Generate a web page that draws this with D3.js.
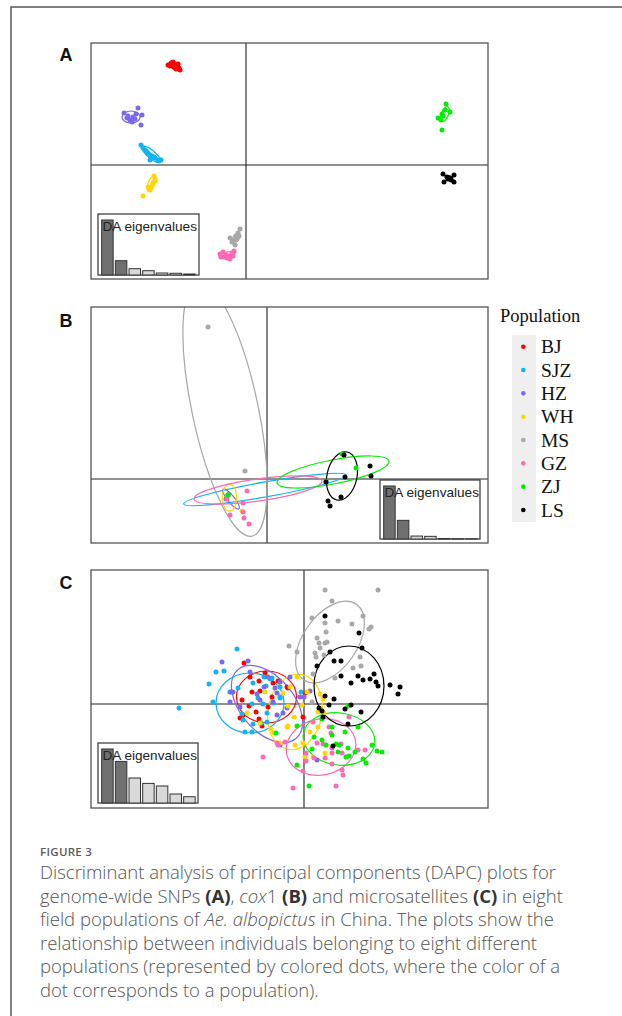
<!DOCTYPE html>
<html><head><meta charset="utf-8">
<script src="https://cdn.jsdelivr.net/npm/d3@7/dist/d3.min.js"></script>
<style>body{margin:0;background:#fff}svg{display:block}</style>
</head><body>
<script>
// ---------- populations ----------
const populations = ["BJ","SJZ","HZ","WH","MS","GZ","ZJ","LS"];
const popColors   = ["#ff0000","#10b4f2","#7b68ee","#ffd700","#a8a8a8","#ff69b4","#00ee00","#000000"];

// ---------- Panel A : genome-wide SNPs (DA scores) ----------
const aBJ  = [[-7.8,10.0],[-7.5,10.2],[-7.3,10.3],[-7.1,10.1],[-6.9,9.9],[-6.7,9.7],[-7.2,9.8],[-7.0,9.6],[-6.6,9.5],[-7.6,9.9],[-6.8,10.1]];
const aSJZ = [[-10.5,2.0],[-10.3,1.7],[-10.0,1.4],[-9.8,1.2],[-9.6,1.0],[-9.4,0.9],[-9.1,0.7],[-8.8,0.5],[-8.5,0.5],[-9.6,0.5],[-10.1,1.5],[-9.2,0.8]];
const aHZ  = [[-12.2,5.2],[-10.8,5.7],[-10.4,5.0],[-10.5,4.0],[-11.9,4.7],[-11.6,4.5],[-11.3,4.8],[-11.1,4.6],[-11.8,4.9],[-11.4,4.3],[-11.0,5.1]];
const aWH  = [[-9.2,-1.1],[-9.1,-1.4],[-9.3,-1.8],[-9.4,-2.1],[-9.5,-2.3],[-9.6,-2.5],[-9.8,-2.2],[-10.3,-3.1],[-9.1,-1.6]];
const aMS  = [[-0.6,-6.4],[-0.8,-6.8],[-1.0,-7.1],[-1.2,-7.5],[-1.4,-7.7],[-0.9,-7.4],[-0.7,-7.1],[-1.1,-8.0],[-1.6,-7.3]];
const aGZ  = [[-2.6,-8.9],[-2.3,-8.7],[-2.0,-9.0],[-1.7,-9.1],[-1.4,-8.8],[-1.2,-8.6],[-1.9,-9.3],[-2.2,-9.2],[-1.6,-9.4],[-1.3,-9.1],[-2.5,-9.2]];
const aZJ  = [[20.0,6.1],[20.4,5.3],[19.9,5.5],[19.6,5.1],[19.2,4.7],[19.7,4.9],[19.5,4.5],[19.6,3.5]];
const aLS  = [[19.7,-0.9],[20.1,-1.2],[20.4,-1.3],[20.8,-1.0],[19.8,-1.7],[20.8,-1.7],[20.2,-1.4],[20.5,-1.5]];
// ellipses: population, centre x, centre y, semi-axis x, semi-axis y, rotation (deg)
const aEllipses = [["BJ",-7.2,9.9,0.5,0.3,30],["SJZ",-9.45,1.05,1.2,0.4,40],["HZ",-11.5,4.8,0.9,0.6,0],["WH",-9.5,-1.9,0.8,0.3,-70],
                   ["MS",-1.0,-7.3,0.6,0.3,-60],["GZ",-1.9,-9.0,0.8,0.3,-10],["ZJ",19.9,5.1,0.8,0.35,-70],["LS",20.3,-1.3,0.4,0.2,20]];
const aEigen = [55,14.3,6.3,4.3,2.0,1.7,1.0];

// ---------- Panel B : cox1 ----------
const bBJ  = [[-3.9,-1.6]];
const bSJZ = [[-3.9,-1.6]];
const bHZ  = [[-4.1,-2.0]];
const bWH  = [[-2.5,-3.2],[-3.9,-1.7]];
const bMS  = [[-5.9,15.2],[-2.2,0.8]];
const bGZ  = [[-2.0,-1.2],[-2.4,-2.4],[-2.4,-3.3],[-2.3,-3.9],[-1.8,-4.5],[-3.7,-3.6],[-4.0,-2.0]];
const bZJ  = [[-3.9,-1.6],[8.9,1.1],[7.5,2.5],[5.9,-0.2]];
const bLS  = [[7.7,2.4],[10.3,1.3],[10.4,0.3],[7.8,0.2],[5.9,-0.3],[7.4,-1.8],[6.1,-2.2],[6.3,-2.7]];
const bEllipses = [["SJZ",-0.2,-1.05,8.26,0.75,-10.1],["HZ",-3.6,-2.0,1.26,0.35,51],["WH",-3.75,-1.87,0.72,1.35,0],
                   ["MS",-4.2,7.0,3.3,13.0,-12],["GZ",-0.9,-1.1,6.46,1.1,-8],["ZJ",6.6,0.7,5.7,1.2,-11],["LS",7.5,0.3,1.5,2.45,12]];
const bEigen = [54,19,3,2.7,0.5,0.3,0.2];

// ---------- Panel C : microsatellites ----------
const cBJ  = [[-6.0,4.1],[-5.4,2.7],[-4.5,2.3],[-3.9,3.1],[-4.4,1.3],[-6.2,0.4],[-6.4,-1.4],[-6.1,-1.1],[-4.5,-1.5],[-4.2,-2.2],[-3.6,-0.3],
              [-3.1,2.1],[-1.7,1.7],[-5.2,1.2],[-2.6,2.3],[-3.2,0.7],[-1.6,1.6],[0.1,1.1],[-0.1,-1.3],[-4.8,-0.8],[-5.5,-0.2]];
const cSJZ = [[-6.7,5.5],[-8.0,3.3],[-9.5,2.0],[-9.1,0.2],[-12.5,-0.4],[-7.4,1.2],[-6.6,1.6],[-6.2,-1.0],[-5.9,-2.8],[-5.2,-2.8],[-5.1,-2.0],
              [-5.1,2.1],[-4.0,2.7],[-3.8,1.8],[-3.4,2.5],[-4.6,0.6],[-4.1,0.0],[-5.2,0.0],[-3.7,-0.9],[-2.4,0.6],[-3.7,-1.8],[-4.3,-1.9],
              [-3.1,0.1],[-6.1,-1.6],[-2.4,1.7],[-2.4,0.7],[-0.3,1.2],[-3.2,2.6],[-8.8,3.2]];
const cHZ  = [[-8.2,4.2],[-5.6,4.3],[-5.4,3.2],[-7.3,1.2],[-7.4,0.2],[-4.4,0.4],[-4.0,1.7],[-2.7,1.1],[-6.4,-0.3],[-3.6,2.7],[-2.9,1.6],
              [-1.7,-0.4],[-1.4,2.7],[-2.4,2.2],[-3.1,0.2],[-2.7,-1.1],[-0.4,0.7],[0.0,0.7],[0.6,1.3],[1.3,-5.6],[-2.4,-4.1],[-7.1,1.2],
              [-4.7,1.0],[-2.1,-0.9]];
const cWH  = [[-5.7,-0.9],[-3.9,1.2],[-4.4,-1.9],[-1.7,-2.3],[-2.4,-3.9],[-1.6,-0.2],[-0.7,2.7],[-1.4,1.7],[-2.1,1.1],[0.3,1.2],[1.6,1.0],
              [1.9,0.5],[-0.2,-0.1],[-1.0,-1.3],[1.4,-0.8],[2.0,-0.9],[-1.6,-2.2],[0.6,-2.8],[-0.1,-3.9],[-0.9,-4.1],[1.4,-2.3],[0.9,-5.3],
              [0.1,-5.3],[2.1,-4.9],[-2.6,-3.9],[-3.0,-2.9],[-3.3,-2.5]];
const cMS  = [[-1.5,5.8],[2.1,11.4],[7.4,11.4],[2.8,10.3],[0.8,8.6],[2.1,8.1],[3.4,8.3],[4.8,8.0],[5.9,8.8],[6.7,7.7],[6.5,7.5],
              [2.2,7.2],[1.3,6.6],[1.5,6.1],[2.1,6.1],[2.3,6.2],[-0.7,5.2],[1.1,5.1],[1.2,4.7],[2.0,4.9],[5.6,4.7],[5.7,3.8],
              [4.9,3.6],[0.9,3.0],[3.1,2.6],[0.8,0.2],[1.6,5.6]];
const cGZ  = [[4.5,-1.3],[0.9,-1.8],[2.5,-2.3],[2.7,-2.9],[1.3,-3.9],[1.9,-4.0],[2.8,-4.4],[3.7,-4.0],[2.8,-4.9],[3.8,-4.9],[5.4,-4.6],
              [6.1,-4.6],[0.2,-4.9],[0.2,-5.7],[1.0,-5.4],[2.1,-5.4],[2.8,-6.0],[3.8,-6.6],[3.9,-7.1],[-0.1,-6.7],[-1.1,-8.4],[3.2,-8.2],
              [-2.7,-3.9],[-1.9,-3.8],[-4.1,-5.3],[-2.6,-4.1]];
const cZJ  = [[4.4,-0.2],[1.8,-1.5],[-0.7,-2.2],[2.8,-2.3],[5.4,-2.3],[4.1,-2.8],[1.0,-3.3],[1.8,-3.6],[2.2,-4.1],[3.2,-4.0],[3.5,-4.1],
              [3.4,-4.8],[4.4,-4.4],[5.1,-4.8],[6.8,-4.1],[7.3,-4.7],[7.8,-4.8],[4.2,-5.3],[4.5,-5.2],[5.9,-5.5],[6.2,-5.9],[0.8,-4.5],
              [-0.7,-6.1],[0.5,-8.2],[2.8,-3.1],[-2.8,-2.9]];
const cLS  = [[2.1,8.8],[5.5,7.1],[5.8,5.6],[2.6,5.2],[1.3,3.8],[3.0,4.3],[3.7,4.3],[3.7,2.8],[5.4,2.8],[5.9,2.4],[6.6,2.5],
              [7.0,3.0],[7.2,2.2],[7.4,1.8],[4.7,2.1],[8.6,1.9],[9.6,1.7],[9.4,1.0],[2.1,0.8],[3.0,0.5],[2.5,-0.1],[4.7,-0.1],
              [4.1,-0.5],[1.5,-0.4],[5.7,-0.8],[1.9,-1.3],[4.4,-2.0],[2.9,-4.2],[1.8,-0.7]];
const cEllipses = [["BJ",-3.75,0.7,3.0,2.6,0],["SJZ",-5.4,0.1,3.4,3.0,0],["HZ",-3.7,0.0,4.5,2.7,50],["WH",-0.9,-0.8,2.7,3.8,10],
                   ["MS",2.6,6.2,4.6,2.7,-55],["GZ",1.7,-4.3,3.5,2.8,-12],["ZJ",3.5,-3.5,3.6,2.6,8],["LS",4.5,1.8,3.5,4.0,0]];
const cEigen = [54,41.6,25,19.6,17,9,6.3];

const captionLines = [
  [["Discriminant analysis of principal components (DAPC) plots for",""]],
  [["genome-wide SNPs ",""],["(A)","b"],[", ",""],["cox","i"],["1 ",""],["(B)","b"],[" and microsatellites ",""],["(C)","b"],[" in eight",""]],
  [["field populations of ",""],["Ae. albopictus","i"],[" in China. The plots show the",""]],
  [["relationship between individuals belonging to eight different",""]],
  [["populations (represented by colored dots, where the color of a",""]],
  [["dot corresponds to a population).",""]]
];

// ---------- drawing ----------
const W = 622, H = 1016;
const color = d3.scaleOrdinal().domain(populations).range(popColors);
const svg = d3.select("body").append("svg").attr("width", W).attr("height", H);

svg.append("path").attr("d", `M11,${H} V7 H${W}`).attr("fill","none").attr("stroke","#555").attr("stroke-width",1.5);

const panels = [
  {label:"A", top:43,  bottom:279, xDom:[-15.5,24.2], yDom:[-11.4,12.2], pts:[aBJ,aSJZ,aHZ,aWH,aMS,aGZ,aZJ,aLS], ell:aEllipses, eig:aEigen, inset:{x:98,y:214,w:101,h:61}, ly:61},
  {label:"B", top:307, bottom:543, xDom:[-17.6,22.1], yDom:[-6.4,17.2],  pts:[bBJ,bSJZ,bHZ,bWH,bMS,bGZ,bZJ,bLS], ell:bEllipses, eig:bEigen, inset:{x:380,y:480,w:100,h:59}, ly:327},
  {label:"C", top:570, bottom:808, xDom:[-21.3,18.4], yDom:[-10.4,13.4], pts:[cBJ,cSJZ,cHZ,cWH,cMS,cGZ,cZJ,cLS], ell:cEllipses, eig:cEigen, inset:{x:98,y:743,w:100,h:60}, ly:589}
];
const L = 91, R = 488;

panels.forEach((p, pi) => {
  const x = d3.scaleLinear().domain(p.xDom).range([L, R]);
  const y = d3.scaleLinear().domain(p.yDom).range([p.bottom, p.top]);
  const g = svg.append("g");
  const cid = "clip" + pi;
  svg.append("clipPath").attr("id", cid).append("rect")
     .attr("x", L).attr("y", p.top).attr("width", R - L).attr("height", p.bottom - p.top);

  // cross lines at origin
  g.append("line").attr("x1", L).attr("x2", R).attr("y1", y(0)).attr("y2", y(0)).attr("stroke","#222").attr("stroke-width",1.1);
  g.append("line").attr("x1", x(0)).attr("x2", x(0)).attr("y1", p.top).attr("y2", p.bottom).attr("stroke","#222").attr("stroke-width",1.1);

  const cg = g.append("g").attr("clip-path", `url(#${cid})`);
  cg.selectAll("ellipse").data(p.ell).join("ellipse")
    .attr("cx", d => x(d[1])).attr("cy", d => y(d[2]))
    .attr("rx", d => x(d[3]) - x(0)).attr("ry", d => y(0) - y(d[4]))
    .attr("transform", d => `rotate(${d[5]},${x(d[1])},${y(d[2])})`)
    .attr("fill","none").attr("stroke", d => color(d[0])).attr("stroke-width",1.2);

  p.pts.forEach((arr, i) => {
    cg.append("g").selectAll("circle").data(arr).join("circle")
      .attr("cx", d => x(d[0])).attr("cy", d => y(d[1])).attr("r", 2.5)
      .attr("fill", color(populations[i]));
  });

  // frame
  g.append("rect").attr("x", L).attr("y", p.top).attr("width", R - L).attr("height", p.bottom - p.top)
    .attr("fill","none").attr("stroke","#555").attr("stroke-width",1.3);

  // eigenvalue inset
  const ins = p.inset;
  const ig = g.append("g");
  ig.append("rect").attr("x", ins.x).attr("y", ins.y).attr("width", ins.w).attr("height", ins.h)
    .attr("fill","#fff").attr("stroke","#333").attr("stroke-width",1.2);
  const bx = d3.scaleBand().domain(d3.range(p.eig.length)).range([ins.x + 3, ins.x + 3 + 13.55 * p.eig.length]).paddingInner(0.16).paddingOuter(0.05);
  const bh = d3.scaleLinear().domain([0, d3.max(p.eig)]).range([0, ins.h - 6]);
  ig.selectAll("rect.bar").data(p.eig).join("rect").attr("class","bar")
    .attr("x", (d, i) => bx(i)).attr("width", bx.bandwidth())
    .attr("y", d => ins.y + ins.h - bh(d)).attr("height", d => bh(d))
    .attr("fill", (d, i) => i < 2 ? "#707070" : "#d9d9d9").attr("stroke","#333").attr("stroke-width",1);
  ig.append("text").attr("x", ins.x + 4.5).attr("y", ins.y + 17).text("DA eigenvalues")
    .attr("font-family","'Liberation Sans', Arial, sans-serif").attr("font-size",13.6).attr("fill","#222");

  svg.append("text").attr("x", 59.5).attr("y", p.ly).text(p.label)
    .attr("font-family","'Liberation Sans', Arial, sans-serif").attr("font-weight","bold").attr("font-size",18).attr("fill","#111");
});

// ---------- legend ----------
const lg = svg.append("g");
lg.append("text").attr("x", 500).attr("y", 322).text("Population")
  .attr("font-family","'Liberation Serif', 'Times New Roman', serif").attr("font-size",18.5).attr("fill","#111");
lg.append("rect").attr("x", 512).attr("y", 335).attr("width", 24).attr("height", 187).attr("fill","#efefef");
const ly = d3.scalePoint().domain(populations).range([346.7, 510]);
lg.selectAll("circle").data(populations).join("circle")
  .attr("cx", 523.3).attr("cy", d => ly(d)).attr("r", 2.3).attr("fill", d => color(d));
lg.selectAll("text.item").data(populations).join("text").attr("class","item")
  .attr("x", 541).attr("y", d => ly(d) + 6.5).text(d => d)
  .attr("font-family","'Liberation Serif', 'Times New Roman', serif").attr("font-size",19.5).attr("fill","#111");

// ---------- caption ----------
const capFont = "'Open Sans', 'Noto Sans', sans-serif";
svg.append("text").attr("x", 40).attr("y", 855.5).text("FIGURE 3")
  .attr("font-family", capFont).attr("font-size", 11.5).attr("letter-spacing", 0.3).attr("fill","#5a5a5a").attr("font-weight", 600);

const capG = svg.append("g");
let fs = 17;
const probe = capG.append("text").attr("font-family", capFont).attr("font-size", fs).text(captionLines[0][0][0]);
fs = fs * 538 / probe.node().getComputedTextLength();
probe.remove();
captionLines.forEach((line, i) => {
  const t = capG.append("text").attr("x", 40).attr("y", 879 + i * 23.5)
    .attr("font-family", capFont).attr("font-size", fs).attr("fill","#555").attr("font-weight", 300);
  line.forEach(seg => {
    const s = t.append("tspan").text(seg[0]);
    if (seg[1] === "b") s.attr("font-weight", 700).attr("fill","#333");
    if (seg[1] === "i") s.attr("font-style", "italic");
  });
});
</script>
</body></html>
